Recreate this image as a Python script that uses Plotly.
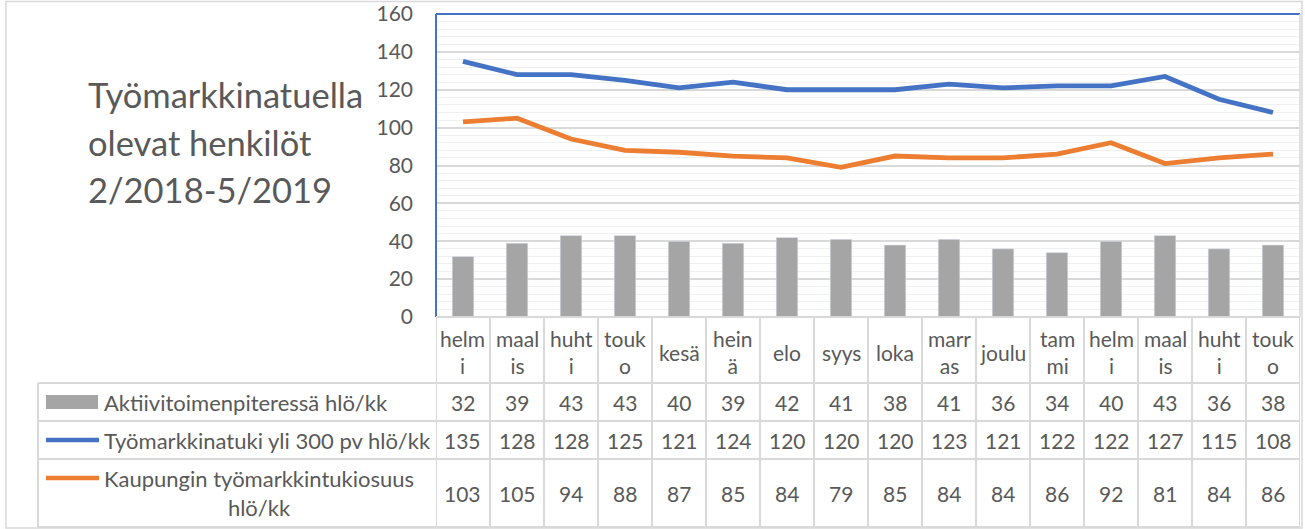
import plotly.graph_objects as go

# ---- data ----
categories = ["helmi", "maalis", "huhti", "touko", "kesä", "heinä", "elo", "syys",
              "loka", "marras", "joulu", "tammi", "helmi ", "maalis ", "huhti ", "touko "]
header_labels = ["helm<br>i", "maal<br>is", "huht<br>i", "touk<br>o", "kesä", "hein<br>ä", "elo", "syys",
                 "loka", "marr<br>as", "joulu", "tam<br>mi", "helm<br>i", "maal<br>is", "huht<br>i", "touk<br>o"]
aktiivi = [32, 39, 43, 43, 40, 39, 42, 41, 38, 41, 36, 34, 40, 43, 36, 38]
tmtuki300 = [135, 128, 128, 125, 121, 124, 120, 120, 120, 123, 121, 122, 122, 127, 115, 108]
kaupunki = [103, 105, 94, 88, 87, 85, 84, 79, 85, 84, 84, 86, 92, 81, 84, 86]
series_names = ["Aktiivitoimenpiteressä hlö/kk", "Työmarkkinatuki yli 300 pv hlö/kk",
                "Kaupungin työmarkkintukiosuus<br>hlö/kk"]
title_lines = ["Työmarkkinatuella", "olevat henkilöt", "2/2018-5/2019"]
y_ticks = [0, 20, 40, 60, 80, 100, 120, 140, 160]

# ---- style / layout constants ----
W, H = 1305, 529
FONT = "Lato"
TXT = "#595959"
GREY = "#a5a5a5"
BLUE = "#4472c4"
ORANGE = "#ed7d31"
GRID = "#d9d9d9"

def px(x):
    return x / W

def py(y):
    return 1 - y / H

X0, X1 = 436, 1300
Y_TOP, Y_BOT = 14, 317
ROWS = [317, 383, 421, 459, 527]
n = len(categories)
xi = list(range(n))

fig = go.Figure()
fig.add_trace(go.Bar(x=xi, y=aktiivi, marker_color=GREY, width=0.4, name=series_names[0]))
fig.add_trace(go.Scatter(x=xi, y=tmtuki300, mode="lines", line=dict(color=BLUE, width=4.8),
                         name=series_names[1]))
fig.add_trace(go.Scatter(x=xi, y=kaupunki, mode="lines", line=dict(color=ORANGE, width=4.8),
                         name=series_names[2]))

shapes = []
annotations = []

# outer chart border
shapes.append(dict(type="rect", xref="paper", yref="paper", x0=px(6), x1=px(1302), y0=py(528), y1=py(1.5),
                   line=dict(color=GRID, width=1.5), layer="below"))

# plot-area outline (left/top blue)
shapes.append(dict(type="line", xref="paper", yref="paper", x0=px(X0), x1=px(X0), y0=py(Y_BOT), y1=py(Y_TOP),
                   line=dict(color=BLUE, width=2)))
shapes.append(dict(type="line", xref="paper", yref="paper", x0=px(X0), x1=px(X1), y0=py(Y_TOP), y1=py(Y_TOP),
                   line=dict(color=BLUE, width=2)))
shapes.append(dict(type="line", xref="paper", yref="paper", x0=px(X1), x1=px(X1), y0=py(Y_BOT), y1=py(Y_TOP),
                   line=dict(color=GRID, width=1.5)))

# table grid: horizontal lines
for r, yv in enumerate(ROWS):
    left = X0 if r == 0 else 38
    shapes.append(dict(type="line", xref="paper", yref="paper", x0=px(left), x1=px(X1), y0=py(yv), y1=py(yv),
                       line=dict(color=GRID, width=2)))
# vertical lines
for i in range(n + 1):
    shapes.append(dict(type="line", xref="x", yref="paper", x0=i - 0.5, x1=i - 0.5, y0=py(ROWS[-1]), y1=py(ROWS[0]),
                       line=dict(color=GRID, width=2)))
shapes.append(dict(type="line", xref="paper", yref="paper", x0=px(38), x1=px(38), y0=py(ROWS[-1]), y1=py(ROWS[1]),
                   line=dict(color=GRID, width=2)))

# header labels
for i, lab in enumerate(header_labels):
    annotations.append(dict(x=i, y=py((ROWS[0] + ROWS[1]) / 2 + 2), xref="x", yref="paper", text=lab,
                            showarrow=False, font=dict(family=FONT, size=21, color=TXT),
                            xanchor="center", yanchor="middle", align="center"))

# data rows
for r, vals in enumerate([aktiivi, tmtuki300, kaupunki]):
    yc = py((ROWS[r + 1] + ROWS[r + 2]) / 2)
    for i, v in enumerate(vals):
        annotations.append(dict(x=i, y=yc, xref="x", yref="paper", text=str(v), showarrow=False,
                                font=dict(family=FONT, size=21, color=TXT), xanchor="center", yanchor="middle"))
    annotations.append(dict(x=px(102), y=yc, xref="paper", yref="paper", text=series_names[r], showarrow=False,
                            font=dict(family=FONT, size=22, color=TXT), xanchor="left", yanchor="middle",
                            align="center"))

# legend keys
shapes.append(dict(type="rect", xref="paper", yref="paper", x0=px(46), x1=px(98), y0=py(409), y1=py(395),
                   fillcolor=GREY, line=dict(width=0)))
y2 = (ROWS[2] + ROWS[3]) / 2
shapes.append(dict(type="line", xref="paper", yref="paper", x0=px(46), x1=px(99), y0=py(y2), y1=py(y2),
                   line=dict(color=BLUE, width=4.5)))
shapes.append(dict(type="line", xref="paper", yref="paper", x0=px(46), x1=px(99), y0=py(478), y1=py(478),
                   line=dict(color=ORANGE, width=4.5)))

# title lines
for k, t in enumerate(title_lines):
    annotations.append(dict(x=px(86), y=py(95 + 47 * k), xref="paper", yref="paper", text=t, showarrow=False,
                            font=dict(family=FONT, size=34.5, color=TXT), xanchor="left", yanchor="middle"))

fig.update_layout(
    width=W, height=H,
    margin=dict(l=0, r=0, t=0, b=0, autoexpand=False),
    paper_bgcolor="white", plot_bgcolor="white",
    showlegend=False,
    xaxis=dict(domain=[px(X0), px(X1)], range=[-0.5, n - 0.5], showticklabels=False, showgrid=False,
               zeroline=False, showline=False, ticks="", automargin=False),
    yaxis=dict(domain=[py(Y_BOT), py(Y_TOP)], range=[0, 160], tickvals=y_ticks, automargin=False,
               tickfont=dict(family=FONT, size=21, color=TXT), ticklabelstandoff=22,
               ticklabeloverflow="allow",
               showgrid=True, gridcolor=GRID, gridwidth=1.5, zeroline=False, showline=False,
               minor=dict(dtick=4, showgrid=True, gridcolor="#f0f0f0", gridwidth=1)),
    shapes=shapes,
    annotations=annotations,
)

fig.write_html("out.html", config={"displayModeBar": False},
               post_script="document.body.style.margin='0px';")
